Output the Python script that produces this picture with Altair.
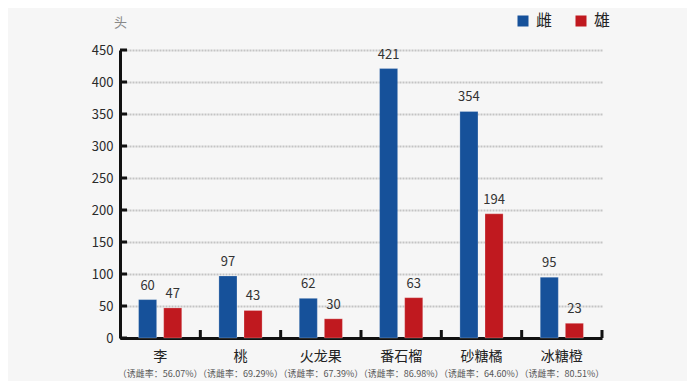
import altair as alt
import pandas as pd

cats = ["李", "桃", "火龙果", "番石榴", "砂糖橘", "冰糖橙"]
female = [60, 97, 62, 421, 354, 95]
male = [47, 43, 30, 63, 194, 23]
rates = ["56.07%", "69.29%", "67.39%", "86.98%", "64.60%", "80.51%"]
series = ["雌", "雄"]
colors = ["#16519a", "#c0191f"]
y_ticks = [0, 50, 100, 150, 200, 250, 300, 350, 400, 450]

rows = []
for c, f, m in zip(cats, female, male):
    rows.append({"cat": c, "sex": "雌", "value": f})
    rows.append({"cat": c, "sex": "雄", "value": m})
df = pd.DataFrame(rows)
cat_df = pd.DataFrame({"cat": cats, "rate": [f"（诱雌率：{r}）" for r in rates]})
tick_df = pd.DataFrame({"v": y_ticks})

FONT = "Noto Sans CJK SC"
W, H = 482, 288

xscale = alt.Scale(domain=cats, paddingInner=0, paddingOuter=0)
xaxis = alt.Axis(labels=False, ticks=False, title=None, grid=False,
                 domainColor="#111111", domainWidth=3)
yscale = alt.Scale(domain=[0, 450], nice=False)
yaxis = alt.Axis(values=y_ticks, ticks=False, domainColor="#111111", domainWidth=3,
                 labelFont=FONT, labelFontSize=13, labelColor="#2a2a2a", labelPadding=7,
                 grid=True, gridColor="#c4c4c4", gridWidth=2, gridDash=[2, 1],
                 title="头", titleAngle=0, titleX=0, titleY=-28, titleAlign="center",
                 titleFont=FONT, titleFontSize=13, titleFontWeight="normal",
                 titleColor="#888888", titleBaseline="middle")
xoff = alt.XOffset("sex:N", scale=alt.Scale(domain=series, paddingInner=0.28, paddingOuter=0.74),
                   sort=series)

bars = alt.Chart(df).mark_bar(stroke="#ffffff", strokeWidth=0.6, strokeOpacity=0.4).encode(
    x=alt.X("cat:N", scale=xscale, sort=cats, axis=xaxis),
    xOffset=xoff,
    y=alt.Y("value:Q", scale=yscale, axis=yaxis),
    color=alt.Color("sex:N", scale=alt.Scale(domain=series, range=colors),
                    legend=alt.Legend(orient="none", legendX=395, legendY=-37,
                                      direction="horizontal", title=None,
                                      symbolType="square", symbolSize=121,
                                      symbolStrokeWidth=0, labelFont=FONT,
                                      labelFontSize=16, labelColor="#222222",
                                      labelOffset=5, columnPadding=20, padding=0)),
)

vals = alt.Chart(df).mark_text(font=FONT, fontSize=13, color="#333333",
                               baseline="bottom", dy=-7).encode(
    x=alt.X("cat:N", scale=xscale, sort=cats, axis=xaxis),
    xOffset=xoff,
    y=alt.Y("value:Q", scale=yscale, axis=yaxis),
    text="value:Q",
)

xticks = alt.Chart(cat_df).mark_rule(color="#111111", strokeWidth=3).encode(
    x=alt.X("cat:N", scale=xscale, sort=cats, axis=xaxis, bandPosition=1),
    y=alt.value(H - 8),
    y2=alt.value(H),
)

yticks = alt.Chart(tick_df).mark_rule(color="#111111", strokeWidth=3).encode(
    y=alt.Y("v:Q", scale=yscale, axis=yaxis),
    x=alt.value(0),
    x2=alt.value(7),
)

cat_labels = alt.Chart(cat_df).mark_text(font=FONT, fontSize=14, color="#222222",
                                         baseline="middle").encode(
    x=alt.X("cat:N", scale=xscale, sort=cats, axis=xaxis),
    y=alt.value(H + 19),
    text="cat:N",
)

rate_labels = alt.Chart(cat_df).mark_text(font=FONT, fontSize=9, color="#555555",
                                          baseline="middle").encode(
    x=alt.X("cat:N", scale=xscale, sort=cats, axis=xaxis),
    y=alt.value(H + 36),
    text="rate:N",
)

chart = alt.layer(bars, vals, xticks, yticks, cat_labels, rate_labels).properties(
    width=W, height=H,
    autosize=alt.AutoSizeParams(type="none"),
    padding={"left": 112, "top": 42, "right": 85, "bottom": 43},
    background="#f6f6f6",
).configure_view(stroke=None)

chart.save("out.html", embed_options={"renderer": "svg", "actions": False})
